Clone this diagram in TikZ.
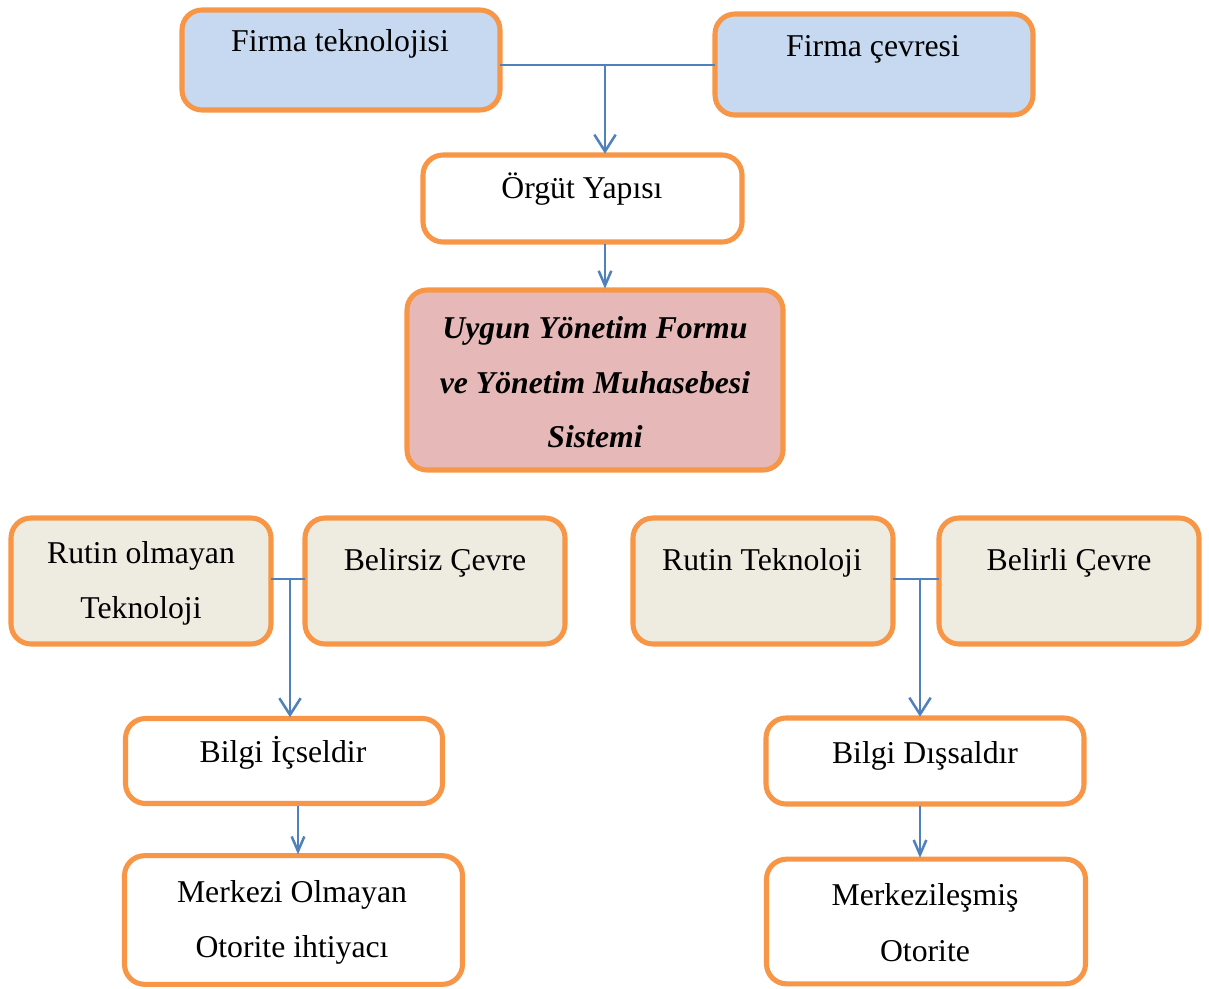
\documentclass[tikz,border=0pt]{standalone}
\usepackage{fontspec}
\setmainfont{Liberation Serif}
\usetikzlibrary{arrows.meta}

\definecolor{frame}{HTML}{F79646}
\definecolor{skyfill}{HTML}{C6D9F1}
\definecolor{rosefill}{HTML}{E6B9B8}
\definecolor{sandfill}{HTML}{EEECE1}
\definecolor{linkblue}{HTML}{4F81BD}

\begin{document}
\begin{tikzpicture}[x=0.75pt,y=-0.75pt,
  panel/.style={draw=frame, line width=3.8pt, rounded corners=15pt,
                inner sep=0pt, outer sep=0pt},
  label/.style={anchor=base, inner sep=0pt,
                font=\fontsize{23.8}{41}\selectfont},
  emph/.style={label, font=\fontsize{23.8}{41}\selectfont\bfseries\itshape},
  link/.style={draw=linkblue, line width=1.9pt},
  bigarrow/.style={link, -{Straight Barb[length=12.5pt,width=16pt,line width=1.9pt]}},
  smallarrow/.style={link, -{Straight Barb[length=11pt,width=9.5pt,line width=1.9pt]}}]

\useasboundingbox (0,0) rectangle (1209,988);

% boxes
\node[panel, fill=skyfill, minimum width=238.5pt, minimum height=75pt] (ft) at (341,60) {};
\node[panel, fill=skyfill, minimum width=238.5pt, minimum height=75.75pt] (fc) at (874,64.5) {};
\node[panel, fill=white, minimum width=239.25pt, minimum height=65.25pt] (org) at (582.5,198.5) {};
\node[panel, fill=rosefill, minimum width=282pt, minimum height=135pt] (uyg) at (595,380) {};
\node[panel, fill=sandfill, minimum width=195pt, minimum height=94.5pt] (rot) at (141,581) {};
\node[panel, fill=sandfill, minimum width=195pt, minimum height=94.5pt] (bc) at (435,581) {};
\node[panel, fill=sandfill, minimum width=195pt, minimum height=94.5pt] (rt) at (763,581) {};
\node[panel, fill=sandfill, minimum width=195pt, minimum height=94.5pt] (blc) at (1069,581) {};
\node[panel, fill=white, minimum width=237.75pt, minimum height=63.75pt] (bi) at (284,761) {};
\node[panel, fill=white, minimum width=238.5pt, minimum height=64.5pt] (bd) at (925,761) {};
\node[panel, fill=white, minimum width=253.5pt, minimum height=96.5pt] (mo) at (293.5,920) {};
\node[panel, fill=white, minimum width=239.25pt, minimum height=93.5pt] (mz) at (926,921.5) {};

% texts
\node[label] (ft-t) at (340,52) {Firma teknolojisi};
\node[label] (fc-t) at (873,57) {Firma çevresi};
\node[label] (org-t) at (582,198) {Örgüt Yapısı};
\node[emph] (uyg-t1) at (595,338) {Uygun Yönetim Formu};
\node[emph] (uyg-t2) at (595,393) {ve Yönetim Muhasebesi};
\node[emph] (uyg-t3) at (595,447) {Sistemi};
\node[label] (rot-t1) at (141,563) {Rutin olmayan};
\node[label] (rot-t2) at (141,618) {Teknoloji};
\node[label] (bc-t) at (435,570) {Belirsiz Çevre};
\node[label] (rt-t) at (762,570) {Rutin Teknoloji};
\node[label] (blc-t) at (1069,570) {Belirli Çevre};
\node[label] (bi-t) at (283,762) {Bilgi İçseldir};
\node[label] (bd-t) at (925,763) {Bilgi Dışsaldır};
\node[label] (mo-t1) at (292,902) {Merkezi Olmayan};
\node[label] (mo-t2) at (292,957) {Otorite ihtiyacı};
\node[label] (mz-t1) at (925,905) {Merkezileşmiş};
\node[label] (mz-t2) at (925,961) {Otorite};

% junction points
\coordinate (jtop) at (605,65);
\coordinate (jmid) at (605,244);
\coordinate (jleft) at (290,579);
\coordinate (jright) at (920,579);
\coordinate (jbl) at (298,806);
\coordinate (jbr) at (920,806);

% connectors
\draw[link] (ft.east |- jtop) -- (fc.west |- jtop);
\draw[bigarrow] (jtop) -- ([yshift=1pt]org.north -| jtop);
\draw[smallarrow] (jmid) -- ([yshift=1pt]uyg.north -| jmid);
\draw[link] (rot.east |- jleft) -- (bc.west |- jleft);
\draw[bigarrow] (jleft) -- ([yshift=1pt]bi.north -| jleft);
\draw[link] (rt.east |- jright) -- (blc.west |- jright);
\draw[bigarrow] (jright) -- ([yshift=1pt]bd.north -| jright);
\draw[smallarrow] (jbl) -- ([yshift=1pt]mo.north -| jbl);
\draw[smallarrow] (jbr) -- ([yshift=1pt]mz.north -| jbr);
\end{tikzpicture}
\end{document}
